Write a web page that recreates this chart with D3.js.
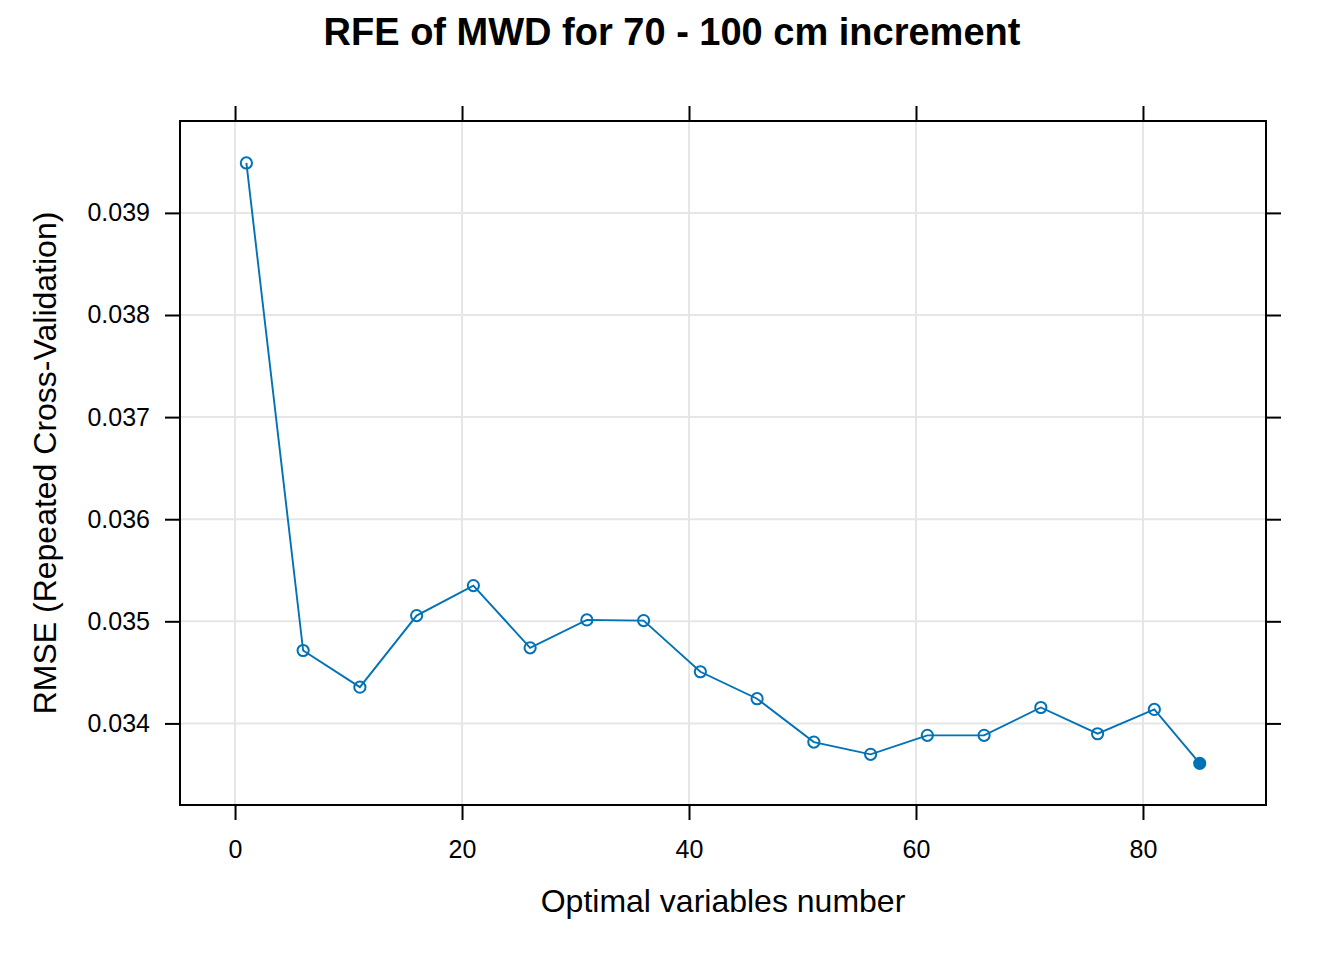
<!DOCTYPE html>
<html>
<head>
<meta charset="utf-8">
<script src="https://cdnjs.cloudflare.com/ajax/libs/d3/7.8.5/d3.min.js"></script>
<style>
  body { margin: 0; background: #fff; }
  text { font-family: "Liberation Sans", Arial, sans-serif; fill: #000; }
</style>
</head>
<body>
<svg id="chart" width="1344" height="960"></svg>
<script>
// number of variables kept at each RFE step
var sizes = [1, 6, 11, 16, 21, 26, 31, 36, 41, 46, 51, 56, 61, 66, 71, 76, 81, 85];
// cross-validated RMSE for each subset size
var rmse = [0.039489, 0.034714, 0.034355, 0.035056, 0.035350, 0.034740, 0.035014, 0.035007,
            0.034506, 0.034242, 0.033817, 0.033697, 0.033883, 0.033883, 0.034156, 0.033899,
            0.034137, 0.033609];
var xTicks = [0, 20, 40, 60, 80];
var yTicks = [0.034, 0.035, 0.036, 0.037, 0.038, 0.039];
var best = 85;

var data = sizes.map(function(s, i){ return {n: s, rmse: rmse[i]}; });

var margin = {top: 121, right: 78, bottom: 155, left: 180};
var width = 1344 - margin.left - margin.right;
var height = 960 - margin.top - margin.bottom;
var col = "#0072B5";

var x = d3.scaleLinear().domain([-4.85, 90.84]).range([0, width]);
var y = d3.scaleLinear().domain([0.033201, 0.039900]).range([height, 0]);

var svg = d3.select("#chart");

svg.append("text")
  .attr("x", 672)
  .attr("y", 45)
  .attr("text-anchor", "middle")
  .style("font-size", "38px")
  .style("font-weight", "bold")
  .text("RFE of MWD for 70 - 100 cm increment");

var g = svg.append("g")
  .attr("transform", "translate(" + margin.left + "," + margin.top + ")");

// grid
g.selectAll(".vgrid")
  .data(xTicks).enter()
  .append("line")
  .attr("x1", function(d){ return x(d); })
  .attr("x2", function(d){ return x(d); })
  .attr("y1", 0).attr("y2", height)
  .attr("stroke", "#e6e6e6").attr("stroke-width", 2);

g.selectAll(".hgrid")
  .data(yTicks).enter()
  .append("line")
  .attr("y1", function(d){ return y(d); })
  .attr("y2", function(d){ return y(d); })
  .attr("x1", 0).attr("x2", width)
  .attr("stroke", "#e6e6e6").attr("stroke-width", 2);

// axes on all four sides, labels only bottom/left
function styleAxis(sel){
  sel.select(".domain").remove();
  sel.selectAll(".tick line").attr("stroke", "#000").attr("stroke-width", 2);
  sel.selectAll(".tick text").style("font-size", "25px").style("font-family", "Liberation Sans, Arial, sans-serif");
}

g.append("g")
  .attr("transform", "translate(0," + height + ")")
  .call(d3.axisBottom(x).tickValues(xTicks).tickSize(15).tickPadding(20).tickFormat(d3.format("d")))
  .call(styleAxis);

g.append("g")
  .call(d3.axisTop(x).tickValues(xTicks).tickSize(15).tickFormat(""))
  .call(styleAxis);

g.append("g")
  .call(d3.axisLeft(y).tickValues(yTicks).tickSize(15).tickPadding(15).tickFormat(d3.format(".3f")))
  .call(styleAxis);

g.append("g")
  .attr("transform", "translate(" + width + ",0)")
  .call(d3.axisRight(y).tickValues(yTicks).tickSize(15).tickFormat(""))
  .call(styleAxis);

g.append("rect")
  .attr("width", width).attr("height", height)
  .attr("fill", "none").attr("stroke", "#000").attr("stroke-width", 2);

// line + points
var line = d3.line()
  .x(function(d){ return x(d.n); })
  .y(function(d){ return y(d.rmse); });

g.append("path")
  .datum(data)
  .attr("d", line)
  .attr("fill", "none")
  .attr("stroke", col)
  .attr("stroke-width", 1.9);

g.selectAll(".dot")
  .data(data).enter()
  .append("circle")
  .attr("cx", function(d){ return x(d.n); })
  .attr("cy", function(d){ return y(d.rmse); })
  .attr("r", 5.6)
  .attr("fill", function(d){ return d.n == best ? col : "none"; })
  .attr("stroke", col)
  .attr("stroke-width", 2);

// axis titles
svg.append("text")
  .attr("x", margin.left + width / 2)
  .attr("y", 912)
  .attr("text-anchor", "middle")
  .style("font-size", "32px")
  .text("Optimal variables number");

svg.append("text")
  .attr("transform", "translate(56," + (margin.top + height / 2) + ")rotate(-90)")
  .attr("text-anchor", "middle")
  .style("font-size", "32px")
  .text("RMSE (Repeated Cross-Validation)");
</script>
</body>
</html>
